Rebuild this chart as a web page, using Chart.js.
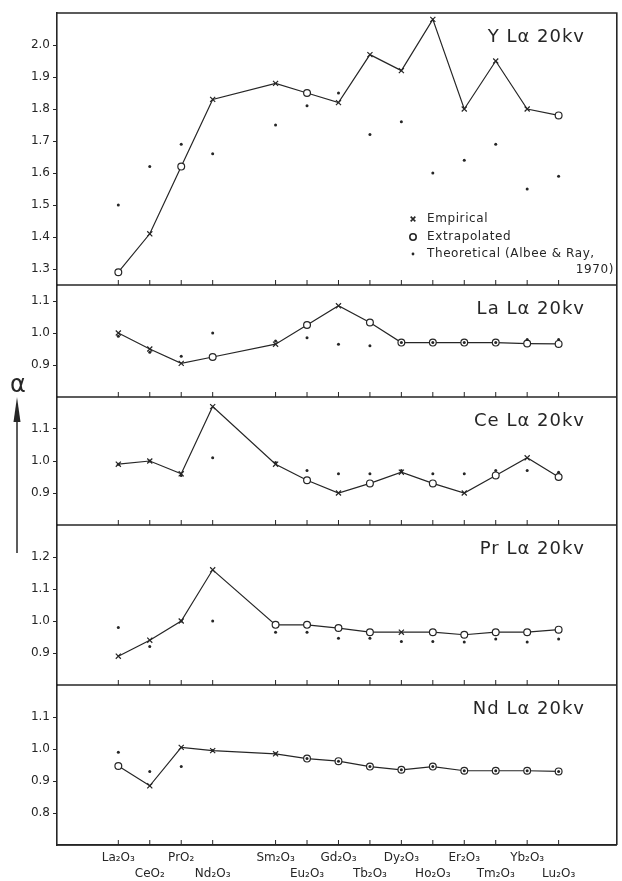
<!DOCTYPE html>
<html>
<head>
<meta charset="utf-8">
<script src="https://cdn.jsdelivr.net/npm/chart.js@4/dist/chart.umd.min.js"></script>
<style>
  html, body { margin: 0; padding: 0; background: #fff; }
</style>
</head>
<body>
<canvas id="alphaChart" width="622" height="881"></canvas>
<script>
// Categorias (posição 4 = Pm, sem dados)
const oxides = ['La₂O₃', 'CeO₂', 'PrO₂', 'Nd₂O₃', '', 'Sm₂O₃', 'Eu₂O₃', 'Gd₂O₃', 'Tb₂O₃', 'Dy₂O₃', 'Ho₂O₃', 'Er₂O₃', 'Tm₂O₃', 'Yb₂O₃', 'Lu₂O₃'];

// x = empírico, o = extrapolado
const yKind = ['o', 'x', 'o', 'x', null, 'x', 'o', 'x', 'x', 'x', 'x', 'x', 'x', 'x', 'o'];
const yMeas = [1.29, 1.41, 1.62, 1.83, null, 1.88, 1.85, 1.82, 1.97, 1.92, 2.08, 1.80, 1.95, 1.80, 1.78];
const yTheo = [1.50, 1.62, 1.69, 1.66, null, 1.75, 1.81, 1.85, 1.72, 1.76, 1.60, 1.64, 1.69, 1.55, 1.59];

const laKind = ['x', 'x', 'x', 'o', null, 'x', 'o', 'x', 'o', 'o', 'o', 'o', 'o', 'o', 'o'];
const laMeas = [1.00, 0.95, 0.905, 0.925, null, 0.965, 1.025, 1.085, 1.033, 0.97, 0.97, 0.97, 0.97, 0.967, 0.966];
const laTheo = [0.99, 0.94, 0.927, 1.00, null, 0.975, 0.985, 0.965, 0.96, 0.97, 0.97, 0.97, 0.97, 0.98, 0.98];

const ceKind = ['x', 'x', 'x', 'x', null, 'x', 'o', 'x', 'o', 'x', 'o', 'x', 'o', 'x', 'o'];
const ceMeas = [0.99, 1.00, 0.96, 1.17, null, 0.99, 0.94, 0.90, 0.93, 0.965, 0.93, 0.90, 0.955, 1.01, 0.95];
const ceTheo = [0.99, 1.00, 0.955, 1.01, null, 0.995, 0.97, 0.96, 0.96, 0.97, 0.96, 0.96, 0.97, 0.97, 0.965];

const prKind = ['x', 'x', 'x', 'x', null, 'o', 'o', 'o', 'o', 'x', 'o', 'o', 'o', 'o', 'o'];
const prMeas = [0.89, 0.94, 1.00, 1.16, null, 0.988, 0.988, 0.978, 0.965, 0.965, 0.965, 0.957, 0.965, 0.965, 0.973];
const prTheo = [0.98, 0.92, 1.00, 1.00, null, 0.965, 0.965, 0.946, 0.946, 0.936, 0.936, 0.934, 0.944, 0.934, 0.944];

const ndKind = ['o', 'x', 'x', 'x', null, 'x', 'o', 'o', 'o', 'o', 'o', 'o', 'o', 'o', 'o'];
const ndMeas = [0.947, 0.885, 1.005, 0.995, null, 0.985, 0.97, 0.962, 0.945, 0.935, 0.945, 0.932, 0.932, 0.932, 0.93];
const ndTheo = [0.99, 0.93, 0.945, 0.995, null, 0.985, 0.97, 0.962, 0.945, 0.935, 0.945, 0.932, 0.932, 0.932, 0.93];

// Rótulos dos eixos y
const yTicksY = [1.3, 1.4, 1.5, 1.6, 1.7, 1.8, 1.9, 2.0];
const yTicksLa = [0.9, 1.0, 1.1];
const yTicksCe = [0.9, 1.0, 1.1];
const yTicksPr = [0.9, 1.0, 1.1, 1.2];
const yTicksNd = [0.8, 0.9, 1.0, 1.1];

const ink = '#262626';
const FONT = "'DejaVu Sans', sans-serif";

// Painéis de baixo para cima (o último definido fica no topo)
const panels = [
  { id: 'yNd', title: 'Nd Lα 20kv', kind: ndKind, meas: ndMeas, theo: ndTheo, min: 0.7, max: 1.2, ticks: yTicksNd },
  { id: 'yPr', title: 'Pr Lα 20kv', kind: prKind, meas: prMeas, theo: prTheo, min: 0.8, max: 1.3, ticks: yTicksPr },
  { id: 'yCe', title: 'Ce Lα 20kv', kind: ceKind, meas: ceMeas, theo: ceTheo, min: 0.8, max: 1.2, ticks: yTicksCe },
  { id: 'yLa', title: 'La Lα 20kv', kind: laKind, meas: laMeas, theo: laTheo, min: 0.8, max: 1.15, ticks: yTicksLa },
  { id: 'yY',  title: 'Y Lα 20kv',  kind: yKind,  meas: yMeas,  theo: yTheo,  min: 1.25, max: 2.1, ticks: yTicksY },
];

const toPoints = (arr) => arr.map((v, i) => ({ x: i, y: v }));

const datasets = [];
const scales = {
  x: {
    type: 'linear',
    min: -1.95,
    max: 15.85,
    afterBuildTicks: (scale) => {
      scale.ticks = oxides.map((l, i) => ({ value: i })).filter(t => oxides[t.value] !== '');
    },
    afterFit: (scale) => { scale.height = 36; },
    ticks: {
      autoSkip: false,
      maxRotation: 0,
      padding: 5,
      color: ink,
      font: { family: FONT, size: 12, lineHeight: 1.35 },
      callback: (value, index) => index % 2 === 0 ? [oxides[value], ''] : ['', oxides[value]],
    },
    grid: { display: true, drawOnChartArea: false, drawTicks: false },
    border: { display: true, color: ink, width: 1.6 },
  },
};

panels.forEach((p) => {
  datasets.push({
    label: p.title + ' theoretical',
    data: toPoints(p.theo),
    yAxisID: p.id,
    showLine: false,
    pointStyle: 'circle',
    pointRadius: 1.5,
    pointBorderWidth: 0,
    pointBackgroundColor: ink,
    order: 0,
  });
  datasets.push({
    label: p.title,
    data: toPoints(p.meas),
    yAxisID: p.id,
    borderColor: ink,
    borderWidth: 1.2,
    spanGaps: true,
    tension: 0,
    pointStyle: p.kind.map(k => k === 'o' ? 'circle' : 'crossRot'),
    pointRadius: p.kind.map(k => k === 'o' ? 3.4 : 3.6),
    pointBackgroundColor: '#fff',
    pointBorderColor: ink,
    pointBorderWidth: 1.2,
    order: 1,
  });
  scales[p.id] = {
    type: 'linear',
    position: 'left',
    stack: 'alpha',
    stackWeight: p.max - p.min,
    min: p.min,
    max: p.max,
    afterBuildTicks: (scale) => {
      scale.ticks = p.ticks.map(v => ({ value: v }));
    },
    afterFit: (scale) => { scale.width = 57; },
    ticks: {
      padding: 3,
      color: ink,
      font: { family: FONT, size: 12 },
      callback: (v) => Number(v).toFixed(1),
    },
    grid: { display: true, drawOnChartArea: false, tickLength: 4, tickColor: ink, tickWidth: 1 },
    border: { display: true, color: ink, width: 1.6 },
  };
});

// Molduras, títulos, legenda e seta do alfa
const decorations = {
  id: 'decorations',
  afterDraw(chart) {
    const { ctx, chartArea } = chart;
    const xs = chart.scales.x;
    ctx.save();
    ctx.strokeStyle = ink;
    ctx.fillStyle = ink;

    // linhas horizontais e marcas internas de cada painel
    panels.forEach((p) => {
      const s = chart.scales[p.id];
      ctx.lineWidth = 1.6;
      ctx.beginPath();
      ctx.moveTo(chartArea.left, s.bottom);
      ctx.lineTo(chartArea.right, s.bottom);
      ctx.stroke();
      ctx.lineWidth = 1;
      xs.ticks.forEach((t) => {
        const px = xs.getPixelForValue(t.value);
        ctx.beginPath();
        ctx.moveTo(px, s.bottom);
        ctx.lineTo(px, s.bottom - 5);
        ctx.stroke();
      });
      ctx.font = '18px ' + FONT;
      ctx.textAlign = 'right';
      ctx.textBaseline = 'alphabetic';
      if ('letterSpacing' in ctx) ctx.letterSpacing = '1px';
      ctx.fillText(p.title, 585, s.top + 29);
      if ('letterSpacing' in ctx) ctx.letterSpacing = '0px';
    });

    // topo e lado direito
    ctx.lineWidth = 1.6;
    ctx.beginPath();
    ctx.moveTo(chartArea.left, chartArea.top);
    ctx.lineTo(chartArea.right, chartArea.top);
    ctx.lineTo(chartArea.right, chartArea.bottom);
    ctx.stroke();

    // legenda
    const legend = [
      { style: 'crossRot', r: 3.3, text: 'Empirical', y: 219 },
      { style: 'circle', r: 3.2, text: 'Extrapolated', y: 237 },
      { style: 'dot', r: 1.4, text: 'Theoretical (Albee & Ray,', y: 254 },
    ];
    ctx.font = '12px ' + FONT;
    ctx.textAlign = 'left';
    ctx.textBaseline = 'middle';
    legend.forEach((l) => {
      if (l.style === 'dot') {
        ctx.beginPath();
        ctx.arc(413, l.y, l.r, 0, Math.PI * 2);
        ctx.fill();
      } else {
        ctx.fillStyle = '#fff';
        Chart.helpers.drawPoint(ctx, { pointStyle: l.style, radius: l.r, rotation: 0, borderWidth: 1.2 }, 413, l.y);
        ctx.fillStyle = ink;
      }
      if ('letterSpacing' in ctx) ctx.letterSpacing = '0.6px';
      ctx.fillText(l.text, 427, l.y);
    });
    ctx.textAlign = 'right';
    ctx.fillText('1970)', 614, 270);
    if ('letterSpacing' in ctx) ctx.letterSpacing = '0px';

    // alfa com seta
    ctx.font = '24px ' + FONT;
    ctx.textAlign = 'center';
    ctx.textBaseline = 'middle';
    ctx.fillText('α', 18, 386);
    ctx.lineWidth = 1.5;
    ctx.beginPath();
    ctx.moveTo(17, 553);
    ctx.lineTo(17, 415);
    ctx.stroke();
    ctx.beginPath();
    ctx.moveTo(17, 397);
    ctx.lineTo(13.5, 422);
    ctx.lineTo(20.5, 422);
    ctx.closePath();
    ctx.fill();
    ctx.restore();
  },
};

const ctx = document.getElementById('alphaChart').getContext('2d');
new Chart(ctx, {
  type: 'line',
  data: { datasets },
  options: {
    responsive: false,
    animation: false,
    layout: { padding: { top: 13, right: 4, left: 0, bottom: 0 } },
    plugins: { legend: { display: false }, tooltip: { enabled: false } },
    scales,
  },
  plugins: [decorations],
});
</script>
</body>
</html>
